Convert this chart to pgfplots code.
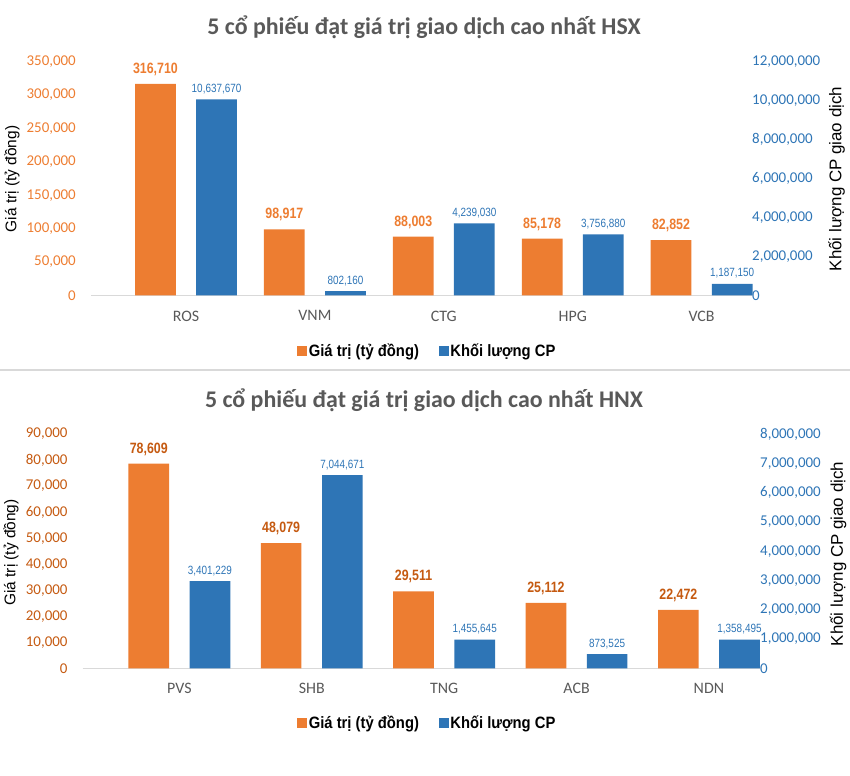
\documentclass[border=0pt]{standalone}
\usepackage{fontspec}
\setmainfont{Carlito}
\newfontfamily\arialf{Liberation Sans}
\newfontfamily\narrowf[FakeStretch=0.83]{Liberation Sans}
\newfontfamily\legendf[FakeStretch=0.9]{Liberation Sans}
\usepackage{pgfplots}
\usepackage{pgfplotstable}
\pgfplotsset{compat=1.18}

\definecolor{cOr}{HTML}{ED7D31}
\definecolor{cOrD}{HTML}{C55A11}
\definecolor{cBl}{HTML}{2E75B6}
\definecolor{cGray}{HTML}{595959}
\definecolor{cLine}{HTML}{D9D9D9}

% HSX: gia tri (ty dong)
\pgfplotstableread{
x y lab
0 316710 316,710
1 98917 98,917
2 88003 88,003
3 85178 85,178
4 82852 82,852
}\hsxval
% HSX: khoi luong CP (bar heights as drawn, labels as printed)
\pgfplotstableread{
x y lab
0 10060000 10,637,670
1 230000 802,160
2 3700000 4,239,030
3 3140000 3,756,880
4 590000 1,187,150
}\hsxvol
% HNX
\pgfplotstableread{
x y lab
0 78609 78,609
1 48079 48,079
2 29511 29,511
3 25112 25,112
4 22472 22,472
}\hnxval
\pgfplotstableread{
x y lab
0 2980000 3,401,229
1 6600000 7,044,671
2 980000 1,455,645
3 480000 873,525
4 980000 1,358,495
}\hnxvol

\pgfplotsset{
  sqimg/.style={legend image code/.code={\fill[#1] (0bp,-4.5bp) rectangle (9bp,4.5bp);}},
  panel/.style={
    scale only axis, anchor=south west, ymin=0, ybar, clip=false,
    major tick length=0pt, tick style={draw=none},
    scaled y ticks=false,
    y axis line style={draw=none},
    /pgf/number format/assume math mode=true,
    yticklabel style={/pgf/number format/fixed, /pgf/number format/precision=0,
      /pgf/number format/1000 sep={,}, font=\fontsize{15}{15}\selectfont, inner sep=0pt},
  },
  leftpanel/.style={panel,
    axis x line*=bottom, axis y line*=left,
    x axis line style={draw=cLine, line width=1.3bp},
    xtick={0,1,2,3,4},
    xticklabel style={anchor=north, inner sep=0pt, yshift=-15bp,
      font=\fontsize{16}{16}\selectfont, text=cGray},
    yticklabel style={anchor=east, xshift=-15bp},
  },
  rightpanel/.style={panel,
    axis y line*=right, axis x line=none,
    yticklabel style={anchor=west, xshift=0bp, text=cBl},
    legend columns=2, legend cell align=left,
    legend style={draw=none, fill=none, anchor=center,
      font=\legendf\bfseries\fontsize{16.5}{16.5}\selectfont,
      nodes={inner xsep=2bp},
      /tikz/every even column/.append style={column sep=18bp}},
  },
  orbar/.style={fill=cOr, draw=none, bar width=0.316, bar shift=-0.237,
    nodes near coords, point meta=explicit symbolic,
    every node near coord/.append style={font=\narrowf\bfseries\fontsize{15}{15}\selectfont,
      text=#1, anchor=base, inner sep=0pt, yshift=10.5bp}},
  blbar/.style={fill=cBl, draw=none, bar width=0.316, bar shift=0.237,
    nodes near coords, point meta=explicit symbolic,
    every node near coord/.append style={font=\narrowf\fontsize{12}{12}\selectfont,
      text=cBl, anchor=base, inner sep=0pt, yshift=7bp}},
}

\begin{document}
\begin{tikzpicture}[x=1bp, y=1bp]
\useasboundingbox (0,0) rectangle (850,776);

% ---------- HSX ----------
\node[font=\bfseries\fontsize{24}{24}\selectfont, text=cGray] at (424,749)
  {5 cổ phiếu đạt giá trị giao dịch cao nhất HSX};

\begin{axis}[leftpanel, at={(91bp,480.5bp)}, width=661bp, height=233.8bp,
  xmin=-0.737, xmax=4.391, ymax=350000,
  xticklabels={ROS,VNM,CTG,HPG,VCB},
  ytick={0,50000,100000,150000,200000,250000,300000,350000},
  yticklabel style={text=cOr}]
\addplot[orbar=cOr] table[x=x, y=y, meta=lab] {\hsxval};
\end{axis}

\begin{axis}[rightpanel, at={(91bp,480.5bp)}, width=661bp, height=233.8bp,
  xmin=-0.737, xmax=4.391, ymax=12000000,
  ytick={0,2000000,4000000,6000000,8000000,10000000,12000000},
  legend style={at={(0.509,-0.237)}}]
\addlegendimage{sqimg=cOr}
\addlegendentry{Giá trị (tỷ đồng)}
\addlegendimage{sqimg=cBl}
\addlegendentry{Khối lượng CP}
\addplot[blbar, forget plot] table[x=x, y=y, meta=lab] {\hsxvol};
\end{axis}

\node[rotate=90, font=\arialf\fontsize{15.5}{15.5}\selectfont] at (12,597) {Giá trị (tỷ đồng)};
\node[rotate=90, font=\arialf\fontsize{17}{17}\selectfont] at (836.5,597) {Khối lượng CP giao dịch};

% separator
\draw[cLine, line width=2.5bp] (0,406) -- (850,406);

% ---------- HNX ----------
\node[font=\bfseries\fontsize{24}{24}\selectfont, text=cGray] at (424,376)
  {5 cổ phiếu đạt giá trị giao dịch cao nhất HNX};

\begin{axis}[leftpanel, at={(82.7bp,107.7bp)}, width=677.3bp, height=234.3bp,
  xmin=-0.730, xmax=4.386, ymax=90000,
  xticklabels={PVS,SHB,TNG,ACB,NDN},
  ytick={0,10000,20000,30000,40000,50000,60000,70000,80000,90000},
  yticklabel style={text=cOrD}]
\addplot[orbar=cOrD, bar width=0.307, bar shift=-0.231] table[x=x, y=y, meta=lab] {\hnxval};
\end{axis}

\begin{axis}[rightpanel, at={(82.7bp,107.7bp)}, width=677.3bp, height=234.3bp,
  xmin=-0.730, xmax=4.386, ymax=8000000,
  ytick={0,1000000,2000000,3000000,4000000,5000000,6000000,7000000,8000000},
  legend style={at={(0.509,-0.232)}}]
\addlegendimage{sqimg=cOr}
\addlegendentry{Giá trị (tỷ đồng)}
\addlegendimage{sqimg=cBl}
\addlegendentry{Khối lượng CP}
\addplot[blbar, bar width=0.307, bar shift=0.231, forget plot] table[x=x, y=y, meta=lab] {\hnxvol};
\end{axis}

\node[rotate=90, font=\arialf\fontsize{15.5}{15.5}\selectfont] at (11,223.5) {Giá trị (tỷ đồng)};
\node[rotate=90, font=\arialf\fontsize{17}{17}\selectfont] at (838,222) {Khối lượng CP giao dịch};
\end{tikzpicture}
\end{document}
